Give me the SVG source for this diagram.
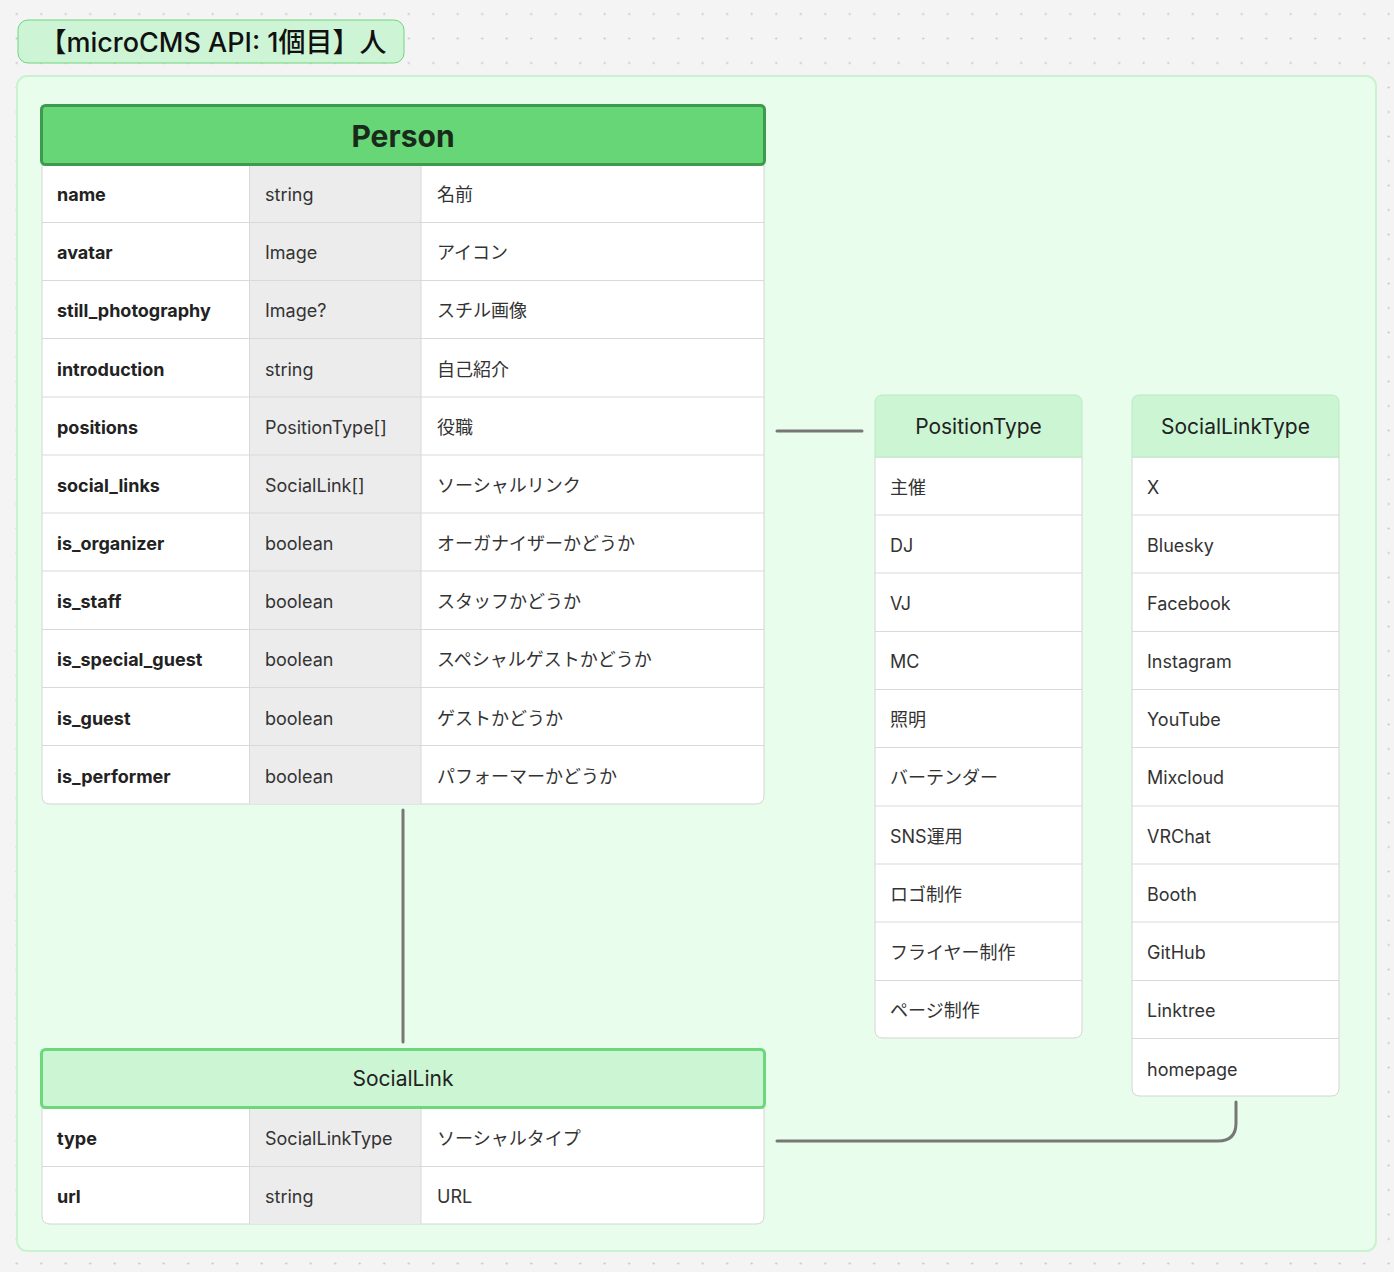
<svg xmlns="http://www.w3.org/2000/svg" width="1394" height="1272" viewBox="0 0 1394 1272">
<style>
text{font-family:Inter,"Noto Sans","Noto Sans CJK JP",sans-serif;fill:#333}
.f{font-size:18px;font-weight:700;fill:#222}
.t{font-size:18px}
.h{font-size:21px;text-anchor:middle;fill:#222}
.sep{stroke:#d9d9d9;stroke-width:1}
.tbl{fill:#fff;stroke:#d4d4d4;stroke-width:1}
.gray{fill:#ececec}
.conn{fill:none;stroke:#777;stroke-width:3;stroke-linecap:round}
.lh{fill:#ccf5d4;stroke:#b9eac3;stroke-width:1}
</style>
<defs>
<pattern id="dots" patternUnits="userSpaceOnUse" x="4.45" y="1.75" width="24.5" height="24.5">
<circle cx="12.25" cy="12.25" r="1.1" fill="#c4c4c4"/>
</pattern>
</defs>
<rect width="1394" height="1272" fill="#f4f4f4"/>
<rect width="1394" height="1272" fill="url(#dots)"/>

<g id="title">
<rect x="18" y="20" width="386" height="43" rx="10" fill="#cdf5d5" stroke="#6fd57f" stroke-width="1"/>
<text x="213" y="52" font-size="27" font-weight="500" text-anchor="middle" style="fill:#111">【microCMS API: 1個目】人</text>
</g>

<g id="container">
<rect x="17" y="76" width="1359" height="1175" rx="10" fill="#e8fdeb" stroke="#c9f3cf" stroke-width="2"/>
</g>

<g id="connectors">
<line class="conn" x1="777" y1="431" x2="862" y2="431"/>
<line class="conn" x1="403" y1="810" x2="403" y2="1042"/>
<path class="conn" d="M777 1141 H1218 Q1236 1141 1236 1123 V1102"/>
</g>

<g id="Person">
<path class="tbl" d="M42 165 H764 V796 Q764 804 756 804 H50 Q42 804 42 796 Z"/>
<rect class="gray" x="249.5" y="165.5" width="171.5" height="638"/>
<g class="sep">
<line x1="249.5" y1="165" x2="249.5" y2="804"/>
<line x1="421" y1="165" x2="421" y2="804"/>
<line x1="42" y1="222.5" x2="764" y2="222.5"/>
<line x1="42" y1="280.5" x2="764" y2="280.5"/>
<line x1="42" y1="338.5" x2="764" y2="338.5"/>
<line x1="42" y1="397" x2="764" y2="397"/>
<line x1="42" y1="455" x2="764" y2="455"/>
<line x1="42" y1="513" x2="764" y2="513"/>
<line x1="42" y1="571" x2="764" y2="571"/>
<line x1="42" y1="629.5" x2="764" y2="629.5"/>
<line x1="42" y1="687.5" x2="764" y2="687.5"/>
<line x1="42" y1="745.5" x2="764" y2="745.5"/>
</g>
<rect x="41.5" y="105.5" width="723" height="59" rx="4" fill="#67d677" stroke="#3e9a4d" stroke-width="3"/>
<text x="403" y="147" font-size="30" font-weight="700" text-anchor="middle" style="fill:#1a2a1a">Person</text>
<text class="f" x="57" y="201">name</text><text class="t" x="265" y="201">string</text><text class="t" x="437" y="201">名前</text>
<text class="f" x="57" y="259">avatar</text><text class="t" x="265" y="259">Image</text><text class="t" x="437" y="259">アイコン</text>
<text class="f" x="57" y="317">still_photography</text><text class="t" x="265" y="317">Image?</text><text class="t" x="437" y="317">スチル画像</text>
<text class="f" x="57" y="376">introduction</text><text class="t" x="265" y="376">string</text><text class="t" x="437" y="376">自己紹介</text>
<text class="f" x="57" y="434">positions</text><text class="t" x="265" y="434">PositionType[]</text><text class="t" x="437" y="434">役職</text>
<text class="f" x="57" y="492">social_links</text><text class="t" x="265" y="492">SocialLink[]</text><text class="t" x="437" y="492">ソーシャルリンク</text>
<text class="f" x="57" y="550">is_organizer</text><text class="t" x="265" y="550">boolean</text><text class="t" x="437" y="550">オーガナイザーかどうか</text>
<text class="f" x="57" y="608">is_staff</text><text class="t" x="265" y="608">boolean</text><text class="t" x="437" y="608">スタッフかどうか</text>
<text class="f" x="57" y="666">is_special_guest</text><text class="t" x="265" y="666">boolean</text><text class="t" x="437" y="666">スペシャルゲストかどうか</text>
<text class="f" x="57" y="725">is_guest</text><text class="t" x="265" y="725">boolean</text><text class="t" x="437" y="725">ゲストかどうか</text>
<text class="f" x="57" y="783">is_performer</text><text class="t" x="265" y="783">boolean</text><text class="t" x="437" y="783">パフォーマーかどうか</text>
</g>

<g id="PositionType">
<path class="tbl" d="M875 457 H1082 V1030 Q1082 1038 1074 1038 H883 Q875 1038 875 1030 Z"/>
<g class="sep">
<line x1="875" y1="515" x2="1082" y2="515"/>
<line x1="875" y1="573" x2="1082" y2="573"/>
<line x1="875" y1="631.5" x2="1082" y2="631.5"/>
<line x1="875" y1="689.5" x2="1082" y2="689.5"/>
<line x1="875" y1="747.5" x2="1082" y2="747.5"/>
<line x1="875" y1="806" x2="1082" y2="806"/>
<line x1="875" y1="864" x2="1082" y2="864"/>
<line x1="875" y1="922" x2="1082" y2="922"/>
<line x1="875" y1="980.5" x2="1082" y2="980.5"/>
</g>
<path class="lh" d="M875 457 V403 Q875 395 883 395 H1074 Q1082 395 1082 403 V457 Z"/>
<text class="h" x="978.5" y="434">PositionType</text>
<text class="t" x="890" y="494">主催</text>
<text class="t" x="890" y="552">DJ</text>
<text class="t" x="890" y="610">VJ</text>
<text class="t" x="890" y="668">MC</text>
<text class="t" x="890" y="726">照明</text>
<text class="t" x="890" y="784">バーテンダー</text>
<text class="t" x="890" y="843">SNS運用</text>
<text class="t" x="890" y="901">ロゴ制作</text>
<text class="t" x="890" y="959">フライヤー制作</text>
<text class="t" x="890" y="1017">ページ制作</text>
</g>

<g id="SocialLinkType">
<path class="tbl" d="M1132 457 H1339 V1088 Q1339 1096 1331 1096 H1140 Q1132 1096 1132 1088 Z"/>
<g class="sep">
<line x1="1132" y1="515" x2="1339" y2="515"/>
<line x1="1132" y1="573" x2="1339" y2="573"/>
<line x1="1132" y1="631.5" x2="1339" y2="631.5"/>
<line x1="1132" y1="689.5" x2="1339" y2="689.5"/>
<line x1="1132" y1="747.5" x2="1339" y2="747.5"/>
<line x1="1132" y1="806" x2="1339" y2="806"/>
<line x1="1132" y1="864" x2="1339" y2="864"/>
<line x1="1132" y1="922" x2="1339" y2="922"/>
<line x1="1132" y1="980.5" x2="1339" y2="980.5"/>
<line x1="1132" y1="1038.5" x2="1339" y2="1038.5"/>
</g>
<path class="lh" d="M1132 457 V403 Q1132 395 1140 395 H1331 Q1339 395 1339 403 V457 Z"/>
<text class="h" x="1235.5" y="434">SocialLinkType</text>
<text class="t" x="1147" y="494">X</text>
<text class="t" x="1147" y="552">Bluesky</text>
<text class="t" x="1147" y="610">Facebook</text>
<text class="t" x="1147" y="668">Instagram</text>
<text class="t" x="1147" y="726">YouTube</text>
<text class="t" x="1147" y="784">Mixcloud</text>
<text class="t" x="1147" y="843">VRChat</text>
<text class="t" x="1147" y="901">Booth</text>
<text class="t" x="1147" y="959">GitHub</text>
<text class="t" x="1147" y="1017">Linktree</text>
<text class="t" x="1147" y="1076">homepage</text>
</g>

<g id="SocialLink">
<path class="tbl" d="M42 1108 H764 V1216 Q764 1224 756 1224 H50 Q42 1224 42 1216 Z"/>
<rect class="gray" x="249.5" y="1108.5" width="171.5" height="115"/>
<g class="sep">
<line x1="249.5" y1="1108" x2="249.5" y2="1224"/>
<line x1="421" y1="1108" x2="421" y2="1224"/>
<line x1="42" y1="1166.5" x2="764" y2="1166.5"/>
</g>
<rect x="41.5" y="1049.5" width="723" height="58" rx="4" fill="#ccf5d4" stroke="#6bd87c" stroke-width="3"/>
<text class="h" x="403" y="1086">SocialLink</text>
<text class="f" x="57" y="1145">type</text><text class="t" x="265" y="1145">SocialLinkType</text><text class="t" x="437" y="1145">ソーシャルタイプ</text>
<text class="f" x="57" y="1203">url</text><text class="t" x="265" y="1203">string</text><text class="t" x="437" y="1203">URL</text>
</g>
</svg>
